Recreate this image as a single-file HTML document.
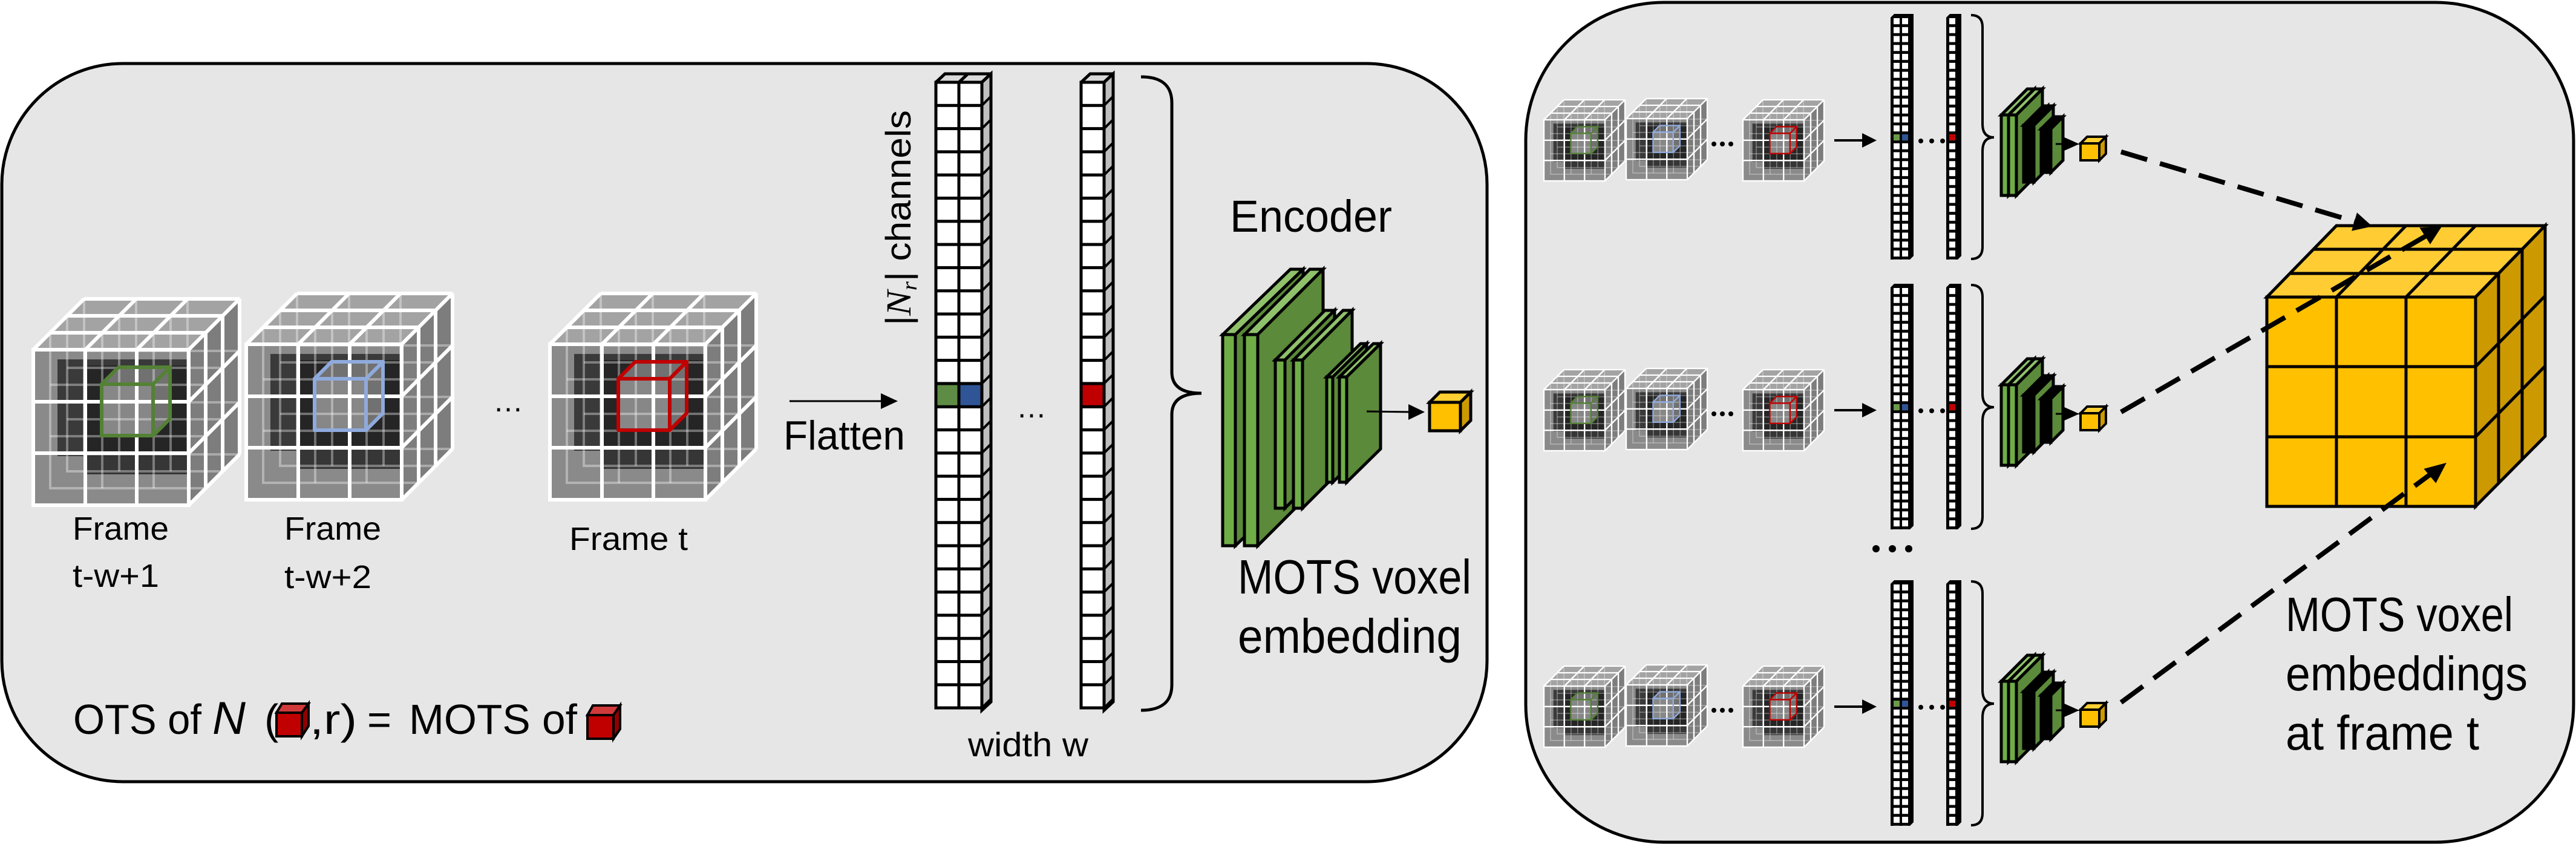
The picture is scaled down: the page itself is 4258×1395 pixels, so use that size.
<!DOCTYPE html>
<html><head><meta charset="utf-8"><style>
html,body{margin:0;padding:0;background:#fff}
svg{display:block}
text{font-family:"Liberation Sans",sans-serif;fill:#000}
</style></head><body>
<svg width="4258" height="1395" viewBox="0 0 4258 1395" xmlns="http://www.w3.org/2000/svg" xmlns:xlink="http://www.w3.org/1999/xlink">
<defs>
  <g id="g3">
    <rect x="0" y="84" width="257" height="257" fill="none"/>
    <line x1="86" y1="84" x2="86" y2="341"/><line x1="171" y1="84" x2="171" y2="341"/>
    <line x1="0" y1="170" x2="257" y2="170"/><line x1="0" y1="255" x2="257" y2="255"/>
  </g>
  <g id="fc">
    <polygon points="0,84 84,0 341,0 257,84" fill="#a3a3a3"/>
    <polygon points="257,84 341,0 341,257 257,341" fill="#7d7d7d"/>
    <rect x="0" y="84" width="257" height="257" fill="#8a8a8a"/>
    <rect x="40" y="100" width="217" height="160" fill="#3a3a3a"/>
    <rect x="86" y="110" width="171" height="180" fill="#202020" opacity="0.8"/>
    <g stroke="#fff" stroke-opacity="0.35" stroke-width="4" fill="none">
      <use xlink:href="#g3" transform="translate(28,-28)"/>
      <use xlink:href="#g3" transform="translate(56,-56)"/>
      <use xlink:href="#g3" transform="translate(84,-84)"/>
    </g>
    <g stroke="#fff" stroke-width="6" fill="none">
      <use xlink:href="#g3"/>
      <line x1="0" y1="84" x2="84" y2="0"/><line x1="86" y1="84" x2="170" y2="0"/>
      <line x1="171" y1="84" x2="255" y2="0"/><line x1="257" y1="84" x2="341" y2="0"/>
      <line x1="28" y1="56" x2="285" y2="56"/><line x1="56" y1="28" x2="313" y2="28"/><line x1="84" y1="0" x2="341" y2="0"/>
      <line x1="257" y1="170" x2="341" y2="86"/><line x1="257" y1="255" x2="341" y2="171"/><line x1="257" y1="341" x2="341" y2="257"/>
      <line x1="285" y1="56" x2="285" y2="313"/><line x1="313" y1="28" x2="313" y2="285"/><line x1="341" y1="0" x2="341" y2="257"/>
    </g>
  </g>
  <g id="hl" stroke="currentColor" stroke-width="6" fill="rgba(255,255,255,0.35)" stroke-linejoin="round">
    <polygon points="113,141 141,113 226,113 198,141"/>
    <polygon points="198,141 226,113 226,198 198,226"/>
    <rect x="113" y="141" width="85" height="85" fill="rgba(255,255,255,0.45)"/>
  </g>
  <pattern id="cellL1" x="1547" y="136" width="38" height="38.3" patternUnits="userSpaceOnUse">
    <rect x="0" y="0" width="38" height="38.3" fill="#fff" stroke="#000" stroke-width="5"/>
  </pattern>
  <pattern id="cellL2" x="1787" y="136" width="38" height="38.3" patternUnits="userSpaceOnUse">
    <rect x="0" y="0" width="38" height="38.3" fill="#fff" stroke="#000" stroke-width="5"/>
  </pattern>
  <pattern id="sideL1" x="1623" y="136" width="15" height="38.3" patternUnits="userSpaceOnUse">
    <rect width="15" height="38.3" fill="#bfbfbf"/>
    <line x1="0" y1="38.3" x2="15" y2="23.3" stroke="#000" stroke-width="4"/>
  </pattern>
  <pattern id="sideL2" x="1825" y="136" width="15" height="38.3" patternUnits="userSpaceOnUse">
    <rect width="15" height="38.3" fill="#bfbfbf"/>
    <line x1="0" y1="38.3" x2="15" y2="23.3" stroke="#000" stroke-width="4"/>
  </pattern>
  <pattern id="pA" x="3130" y="30" width="14" height="14.77" patternUnits="userSpaceOnUse">
    <rect width="10" height="10" fill="#fff"/>
  </pattern>
  <pattern id="pB" x="3222" y="30" width="14" height="14.77" patternUnits="userSpaceOnUse">
    <rect width="10" height="10" fill="#fff"/>
  </pattern>
  <g id="rowR">
    <use xlink:href="#fc" transform="translate(2552,165) scale(0.393)"/>
    <use xlink:href="#hl" transform="translate(2552,165) scale(0.393)" style="color:#538135"/>
    <use xlink:href="#fc" transform="translate(2688,163) scale(0.393)"/>
    <use xlink:href="#hl" transform="translate(2688,163) scale(0.393)" style="color:#8faadc"/>
    <use xlink:href="#fc" transform="translate(2881,165) scale(0.393)"/>
    <use xlink:href="#hl" transform="translate(2881,165) scale(0.393)" style="color:#c00000"/>
    <circle cx="2833" cy="238" r="4"/><circle cx="2847" cy="238" r="4"/><circle cx="2861" cy="238" r="4"/>
    <line x1="3032" y1="232" x2="3080" y2="232" stroke="#000" stroke-width="4"/>
    <path d="M3078,220 L3102,232 L3078,244 z"/>
    <polygon points="3125,29 3131,23 3163,23 3163,423 3157,429 3125,429" fill="#000"/>
    <rect x="3130" y="30" width="24" height="399" fill="url(#pA)"/>
    <polygon points="3217,29 3223,23 3242,23 3242,423 3236,429 3217,429" fill="#000"/>
    <rect x="3222" y="30" width="10" height="399" fill="url(#pB)"/>
    <rect x="3130" y="222" width="10" height="10" fill="#6a9a4a"/>
    <rect x="3144" y="222" width="10" height="10" fill="#2f5597"/>
    <rect x="3222" y="222" width="10" height="10" fill="#c00000"/>
    <circle cx="3175" cy="233" r="4"/><circle cx="3193" cy="233" r="4"/><circle cx="3211" cy="233" r="4"/>
    <path d="M3258,25 Q3277,25 3277,45 L3277,205 Q3277,227 3296,227 Q3277,227 3277,250 L3277,408 Q3277,428 3258,428" fill="none" stroke="#000" stroke-width="4"/>
    <g stroke="#000" stroke-width="5" stroke-linejoin="miter">
      <polygon points="3308,190 3351,147 3363,147 3320,190" fill="#8fc16b"/>
      <polygon points="3320,190 3363,147 3363,280 3320,323" fill="#5b8a3a"/>
      <rect x="3308" y="190" width="12" height="133" fill="#70ad47"/>
      <polygon points="3320,190 3363,147 3376,147 3333,190" fill="#8fc16b"/>
      <polygon points="3333,190 3376,147 3376,280 3333,323" fill="#5b8a3a"/>
      <rect x="3320" y="190" width="13" height="133" fill="#70ad47"/>
      <polygon points="3345,207 3377,175 3385,175 3353,207" fill="#000"/>
      <polygon points="3353,207 3385,175 3385,269 3353,301" fill="#5b8a3a"/>
      <rect x="3345" y="207" width="8" height="94" fill="#000"/>
      <polygon points="3353,207 3385,175 3394,175 3362,207" fill="#000"/>
      <polygon points="3362,207 3394,175 3394,269 3362,301" fill="#5b8a3a"/>
      <rect x="3353" y="207" width="9" height="94" fill="#000"/>
      <polygon points="3374,213 3394,193 3410,193 3390,213" fill="#000"/>
      <polygon points="3390,213 3410,193 3410,265 3390,285" fill="#5b8a3a"/>
      <rect x="3374" y="213" width="16" height="72" fill="#000"/>
    </g>
    <line x1="3398" y1="238" x2="3420" y2="238" stroke="#000" stroke-width="3"/>
    <path d="M3410,226 L3437,238 L3410,250 z"/>
    <g stroke="#000" stroke-width="4" stroke-linejoin="miter">
      <polygon points="3439,237 3450,226 3481,226 3470,237" fill="#ffd033"/>
      <polygon points="3470,237 3481,226 3481,254 3470,265" fill="#cc9a00"/>
      <rect x="3439" y="237" width="31" height="28" fill="#ffc000"/>
    </g>
  </g>
</defs>

<!-- Panels -->
<rect x="3" y="105" width="2455" height="1187" rx="200" ry="200" fill="#e6e6e6" stroke="#000" stroke-width="5"/>
<rect x="2522" y="4" width="1732" height="1388" rx="228" ry="228" fill="#e6e6e6" stroke="#000" stroke-width="5"/>

<!-- LEFT PANEL -->
<use xlink:href="#fc" transform="translate(55,494)"/>
<use xlink:href="#hl" transform="translate(55,494)" style="color:#538135"/>
<use xlink:href="#fc" transform="translate(407,485)"/>
<use xlink:href="#hl" transform="translate(407,485)" style="color:#8faadc"/>
<use xlink:href="#fc" transform="translate(909,485)"/>
<use xlink:href="#hl" transform="translate(909,485)" style="color:#c00000"/>

<text x="120" y="892" font-size="54" textLength="159" lengthAdjust="spacingAndGlyphs">Frame</text>
<text x="120" y="970" font-size="54" textLength="143" lengthAdjust="spacingAndGlyphs">t-w+1</text>
<text x="470" y="892" font-size="54" textLength="160" lengthAdjust="spacingAndGlyphs">Frame</text>
<text x="470" y="972" font-size="54" textLength="144" lengthAdjust="spacingAndGlyphs">t-w+2</text>
<text x="941" y="909" font-size="54" textLength="196" lengthAdjust="spacingAndGlyphs">Frame t</text>
<text x="815" y="680" font-size="50">…</text>

<line x1="1305" y1="663" x2="1460" y2="663" stroke="#000" stroke-width="3"/>
<path d="M1456,650 L1484,663 L1456,676 z"/>
<text x="1295" y="743" font-size="68" textLength="201" lengthAdjust="spacingAndGlyphs">Flatten</text>

<text transform="translate(1505,538) rotate(-90)" font-size="58" textLength="356" lengthAdjust="spacingAndGlyphs">|<tspan font-family="Liberation Serif,serif" font-style="italic">N</tspan><tspan font-size="36" dy="10" font-family="Liberation Serif,serif" font-style="italic">r</tspan><tspan dy="-10">| channels</tspan></text>

<!-- column 1 -->
<polygon points="1547,136 1562,122 1638,122 1623,136" fill="#d9d9d9" stroke="#000" stroke-width="5" stroke-linejoin="round"/>
<line x1="1585" y1="136" x2="1600" y2="122" stroke="#000" stroke-width="5"/>
<polygon points="1623,136 1638,122 1638,1160 1623,1174" fill="url(#sideL1)" stroke="#000" stroke-width="5"/>
<rect x="1547" y="136" width="76" height="1034" fill="url(#cellL1)" stroke="#000" stroke-width="5"/>
<rect x="1547" y="634" width="38" height="38.3" fill="#5e8c45" stroke="#000" stroke-width="5"/>
<rect x="1585" y="634" width="38" height="38.3" fill="#2f5597" stroke="#000" stroke-width="5"/>
<!-- column 2 -->
<polygon points="1787,136 1802,122 1840,122 1825,136" fill="#d9d9d9" stroke="#000" stroke-width="5" stroke-linejoin="round"/>
<polygon points="1825,136 1840,122 1840,1160 1825,1174" fill="url(#sideL2)" stroke="#000" stroke-width="5"/>
<rect x="1787" y="136" width="38" height="1034" fill="url(#cellL2)" stroke="#000" stroke-width="5"/>
<rect x="1787" y="634" width="38" height="38.3" fill="#c00000" stroke="#000" stroke-width="5"/>
<text x="1680" y="690" font-size="50">…</text>
<text x="1600" y="1250" font-size="56" textLength="199" lengthAdjust="spacingAndGlyphs">width w</text>

<path d="M1886,127 Q1937,127 1937,170 L1937,615 Q1937,650 1986,650 Q1937,650 1937,685 L1937,1132 Q1937,1174 1886,1174" fill="none" stroke="#000" stroke-width="5"/>

<text x="2033" y="383" font-size="74" textLength="268" lengthAdjust="spacingAndGlyphs">Encoder</text>

<g stroke="#000" stroke-width="5" stroke-linejoin="miter">
  <polygon points="2021,553 2133,445 2154,445 2042,553" fill="#8fc16b"/>
  <polygon points="2042,553 2154,445 2154,794 2042,902" fill="#5b8a3a"/>
  <rect x="2021" y="553" width="21" height="349" fill="#70ad47"/>
  <polygon points="2057,553 2165,445 2187,445 2079,553" fill="#8fc16b"/>
  <polygon points="2079,553 2187,445 2187,794 2079,902" fill="#5b8a3a"/>
  <rect x="2057" y="553" width="22" height="349" fill="#70ad47"/>
  <polygon points="2108,595 2190,513 2206,513 2124,595" fill="#8fc16b"/>
  <polygon points="2124,595 2206,513 2206,758 2124,840" fill="#5b8a3a"/>
  <rect x="2108" y="595" width="16" height="245" fill="#70ad47"/>
  <polygon points="2138,595 2220,513 2235,513 2153,595" fill="#8fc16b"/>
  <polygon points="2153,595 2235,513 2235,758 2153,840" fill="#5b8a3a"/>
  <rect x="2138" y="595" width="15" height="245" fill="#70ad47"/>
  <polygon points="2193,623 2249,568 2259,568 2203,623" fill="#8fc16b"/>
  <polygon points="2203,623 2259,568 2259,742 2203,797" fill="#5b8a3a"/>
  <rect x="2193" y="623" width="10" height="174" fill="#70ad47"/>
  <polygon points="2214,623 2270,568 2282,568 2226,623" fill="#8fc16b"/>
  <polygon points="2226,623 2282,568 2282,742 2226,797" fill="#5b8a3a"/>
  <rect x="2214" y="623" width="12" height="174" fill="#70ad47"/>
</g>
<line x1="2259" y1="680" x2="2335" y2="681" stroke="#000" stroke-width="3"/>
<path d="M2328,668 L2355,681 L2328,694 z"/>
<g stroke="#000" stroke-width="5">
  <polygon points="2363,665 2380,648 2431,648 2414,665" fill="#ffd033"/>
  <polygon points="2414,665 2431,648 2431,695 2414,712" fill="#cc9a00"/>
  <rect x="2363" y="665" width="51" height="47" fill="#ffc000"/>
</g>

<text x="2046" y="981" font-size="80" textLength="386" lengthAdjust="spacingAndGlyphs">MOTS voxel</text>
<text x="2046" y="1079" font-size="80" textLength="370" lengthAdjust="spacingAndGlyphs">embedding</text>

<!-- formula -->
<text x="121" y="1213" font-size="70" textLength="212" lengthAdjust="spacingAndGlyphs">OTS of</text>
<text x="351" y="1213" font-size="76" font-family="Liberation Serif,serif" font-style="italic">N</text>
<text x="437" y="1213" font-size="70">(</text>
<g stroke="#000" stroke-width="4">
  <polygon points="457,1178 466,1163 510,1163 499,1178" fill="#d03a3a"/>
  <polygon points="499,1178 510,1163 510,1200 499,1217" fill="#900000"/>
  <rect x="457" y="1178" width="42" height="39" fill="#c00000"/>
</g>
<text x="512" y="1213" font-size="70" textLength="78" lengthAdjust="spacingAndGlyphs">,r)</text>
<text x="607" y="1213" font-size="70" textLength="40" lengthAdjust="spacingAndGlyphs">=</text>
<text x="676" y="1213" font-size="70" textLength="278" lengthAdjust="spacingAndGlyphs">MOTS of</text>
<g stroke="#000" stroke-width="4">
  <polygon points="971,1182 980,1166 1025,1166 1014,1182" fill="#d03a3a"/>
  <polygon points="1014,1182 1025,1166 1025,1205 1014,1221" fill="#900000"/>
  <rect x="971" y="1182" width="43" height="39" fill="#c00000"/>
</g>

<!-- RIGHT PANEL -->
<use xlink:href="#rowR"/>
<use xlink:href="#rowR" transform="translate(0,446)"/>
<use xlink:href="#rowR" transform="translate(0,936)"/>

<circle cx="3101" cy="907" r="6"/><circle cx="3128" cy="907" r="6"/><circle cx="3155" cy="907" r="6"/>

<!-- big yellow cube -->
<g stroke="#000" stroke-width="5" stroke-linejoin="miter">
  <polygon points="3747,491 3862,373 4207,373 4092,491" fill="#ffcd33"/>
  <polygon points="4092,491 4207,373 4207,721 4092,837" fill="#cc9a00"/>
  <rect x="3747" y="491" width="345" height="346" fill="#ffc000"/>
  <line x1="3862" y1="491" x2="3977" y2="373"/><line x1="3977" y1="491" x2="4092" y2="373"/>
  <line x1="3785" y1="452" x2="4130" y2="452"/><line x1="3824" y1="412" x2="4169" y2="412"/>
  <line x1="4130" y1="452" x2="4130" y2="798"/><line x1="4169" y1="412" x2="4169" y2="759"/>
  <line x1="4092" y1="606" x2="4207" y2="489"/><line x1="4092" y1="722" x2="4207" y2="605"/>
  <line x1="3862" y1="491" x2="3862" y2="837"/><line x1="3977" y1="491" x2="3977" y2="837"/>
  <line x1="3747" y1="606" x2="4092" y2="606"/><line x1="3747" y1="722" x2="4092" y2="722"/>
</g>

<!-- dashed connectors -->
<g stroke="#000" stroke-width="8" stroke-dasharray="45,22" fill="none">
  <line x1="3506" y1="251" x2="3895" y2="367"/>
  <line x1="3506" y1="681" x2="4010" y2="390"/>
  <line x1="3506" y1="1161" x2="4020" y2="782"/>
</g>
<path d="M3917,373 L3890,379 L3897,355 z" stroke="#000" stroke-width="4"/>
<path d="M4032,377 L4017,400 L4003,378 z" stroke="#000" stroke-width="4"/>
<path d="M4040,768 L4026,795 L4010,776 z" stroke="#000" stroke-width="4"/>

<text x="3778" y="1043" font-size="80" textLength="376" lengthAdjust="spacingAndGlyphs">MOTS voxel</text>
<text x="3778" y="1141" font-size="80" textLength="400" lengthAdjust="spacingAndGlyphs">embeddings</text>
<text x="3778" y="1239" font-size="80" textLength="320" lengthAdjust="spacingAndGlyphs">at frame t</text>
</svg>
</body></html>
